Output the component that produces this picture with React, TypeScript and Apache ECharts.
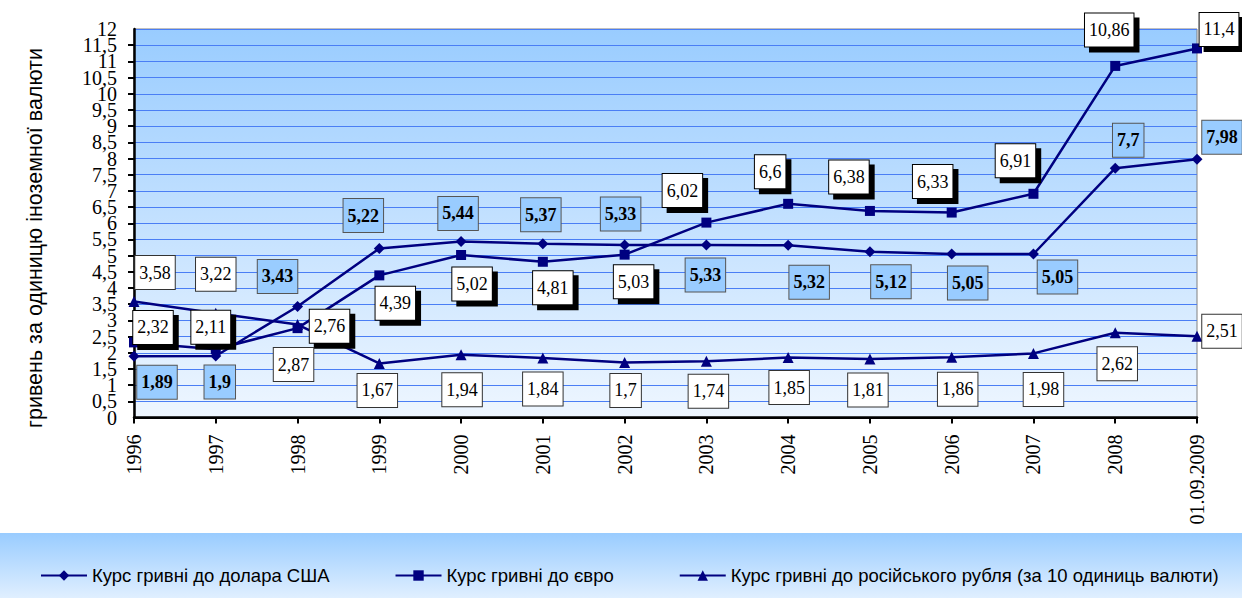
import React, { useEffect, useRef } from "react";
import * as echarts from "echarts";

const categories = ["1996", "1997", "1998", "1999", "2000", "2001", "2002", "2003", "2004", "2005", "2006", "2007", "2008", "01.09.2009"];
const usdValues = [1.89, 1.9, 3.43, 5.22, 5.44, 5.37, 5.33, 5.33, 5.32, 5.12, 5.05, 5.05, 7.7, 7.98];
const eurValues = [2.32, 2.11, 2.76, 4.39, 5.02, 4.81, 5.03, 6.02, 6.6, 6.38, 6.33, 6.91, 10.86, 11.4];
const rubValues = [3.58, 3.22, 2.87, 1.67, 1.94, 1.84, 1.7, 1.74, 1.85, 1.81, 1.86, 1.98, 2.62, 2.51];
const seriesNames = [
  "Курс гривні до долара США",
  "Курс гривні до євро",
  "Курс гривні до російського рубля (за 10 одиниць валюти)",
];
const yAxisTitle = "гривень за одиницю іноземної валюти";

// label placement (pixel offsets from each point), kept apart from the data
const usdLabelOffsets = [[23, 26], [4, 26], [-20, -30], [-16, -33], [-3, -28], [-2, -29], [-4, -31], [-1, 30], [21, 37], [21, 30], [16, 29], [24, 23], [13, -28], [25, -22]];
const eurLabelOffsets = [[19, -15], [-5, -22], [32, -2], [16, 28], [11, 29], [10, 26], [9, 27], [-24, -32], [-18, -32], [-21, -34], [-19, -31], [-18, -33], [-6, -36], [22, -19]];
const rubLabelOffsets = [[21, -29], [0, -39], [-4, 40], [-2, 27], [1, 35], [0, 31], [1, 28], [2, 30], [1, 30], [-2, 31], [6, 32], [10, 36], [2, 31], [25, -5]];

const NAVY = "#000080";
const SERIF = "Liberation Serif";
const SANS = "Liberation Sans";

const fmt = (v: number) => String(v).replace(".", ",");

const baseLabel = {
  show: true,
  position: "inside",
  fontFamily: SERIF,
  fontSize: 18,
  lineHeight: 18,
  color: "#000",
  padding: [8, 4, 7, 4],
  borderWidth: 1,
  formatter: (p: any) => fmt(p.value),
};

function buildData(values: number[], offsets: number[][]) {
  return values.map((v, i) => ({ value: v, label: { offset: offsets[i] } }));
}

const yLabelStyle = {
  margin: 17,
  fontFamily: SERIF,
  fontSize: 20,
  color: "#000",
  hideOverlap: false,
};

export default function App() {
  const ref = useRef<HTMLDivElement>(null);
  useEffect(() => {
    if (!ref.current) return;
    const chart = echarts.init(ref.current, undefined, { renderer: "svg" });
    chart.setOption({
      animation: false,
      backgroundColor: "#ffffff",
      textStyle: { fontFamily: SERIF },
      grid: {
        left: 134,
        top: 29,
        width: 1063,
        height: 388.5,
        show: true,
        borderColor: "#808080",
        borderWidth: 1,
        backgroundColor: {
          type: "linear",
          x: 0,
          y: 0,
          x2: 0,
          y2: 1,
          colorStops: [
            { offset: 0, color: "#99ccff" },
            { offset: 1, color: "#eef6ff" },
          ],
        },
      },
      graphic: [
        {
          type: "rect",
          z: -10,
          shape: { x: 0, y: 533, width: 1242, height: 65 },
          style: {
            fill: {
              type: "linear",
              x: 0,
              y: 0,
              x2: 0,
              y2: 1,
              colorStops: [
                { offset: 0, color: "#99ccff" },
                { offset: 1, color: "#e0efff" },
              ],
            },
          },
        },
        {
          type: "text",
          x: 35,
          y: 238,
          rotation: Math.PI / 2,
          style: {
            text: yAxisTitle,
            fontFamily: SANS,
            fontSize: 21.5,
            fill: "#000",
            align: "center",
            verticalAlign: "middle",
          },
        },
      ],
      legend: {
        left: 35,
        top: 561,
        itemGap: 65,
        itemWidth: 46,
        itemHeight: 13,
        data: seriesNames,
        textStyle: { fontFamily: SANS, fontSize: 18.5, color: "#000" },
      },
      xAxis: [
        {
          type: "category",
          data: categories,
          boundaryGap: false,
          axisLine: { lineStyle: { color: "#000", width: 2.5 } },
          axisTick: { length: 6, lineStyle: { color: "#000", width: 2 } },
          axisLabel: {
            rotate: 90,
            margin: 17,
            fontFamily: SERIF,
            fontSize: 20,
            color: "#000",
            interval: 0,
          },
          splitLine: { show: false },
        },
        {
          type: "category",
          data: categories,
          boundaryGap: false,
          position: "top",
          axisLine: { lineStyle: { color: "#000", width: 2 } },
          axisTick: { show: false },
          axisLabel: { show: false },
          splitLine: { show: false },
        },
      ],
      yAxis: [
        {
          // main value axis: half-unit ticks, grid lines and the x,5 labels
          type: "value",
          position: "left",
          min: 0,
          max: 12,
          interval: 0.5,
          axisLine: { show: true, lineStyle: { color: "#000", width: 2.5 } },
          axisTick: { show: true, length: 6, lineStyle: { color: "#000", width: 2 } },
          axisLabel: {
            ...yLabelStyle,
            showMinLabel: false,
            showMaxLabel: false,
            formatter: (v: number) => (Number.isInteger(v) ? "" : fmt(v)),
          },
          splitLine: { show: true, lineStyle: { color: "#4a7ef5", width: 1 } },
        },
        {
          // same scale, whole-number labels
          type: "value",
          position: "left",
          offset: 0,
          min: 0,
          max: 12,
          interval: 1,
          axisLine: { show: false },
          axisTick: { show: false },
          axisLabel: {
            ...yLabelStyle,
            showMinLabel: true,
            showMaxLabel: true,
            formatter: (v: number) => fmt(v),
          },
          splitLine: { show: false },
        },
      ],
      series: [
        {
          name: seriesNames[0],
          type: "line",
          yAxisIndex: 0,
          data: buildData(usdValues, usdLabelOffsets),
          symbol: "diamond",
          symbolSize: 11,
          lineStyle: { color: NAVY, width: 2.5 },
          itemStyle: { color: NAVY },
          label: {
            ...baseLabel,
            fontWeight: "bold",
            backgroundColor: "#99ccff",
            borderColor: "#555555",
          },
          z: 3,
        },
        {
          name: seriesNames[1],
          type: "line",
          yAxisIndex: 0,
          data: buildData(eurValues, eurLabelOffsets),
          symbol: "rect",
          symbolSize: 10,
          lineStyle: { color: NAVY, width: 2.5 },
          itemStyle: { color: NAVY },
          label: {
            ...baseLabel,
            backgroundColor: "#ffffff",
            borderColor: "#000000",
            shadowColor: "#000000",
            shadowBlur: 0,
            shadowOffsetX: 5,
            shadowOffsetY: 5,
          },
          z: 3,
        },
        {
          name: seriesNames[2],
          type: "line",
          yAxisIndex: 0,
          data: buildData(rubValues, rubLabelOffsets),
          symbol: "triangle",
          symbolSize: 11,
          lineStyle: { color: NAVY, width: 2.5 },
          itemStyle: { color: NAVY },
          label: {
            ...baseLabel,
            backgroundColor: "#ffffff",
            borderColor: "#333333",
          },
          z: 3,
        },
      ],
    });
    return () => chart.dispose();
  }, []);
  return (
    <div
      ref={ref}
      style={{ position: "absolute", left: 0, top: 0, width: 1242, height: 598 }}
    />
  );
}
